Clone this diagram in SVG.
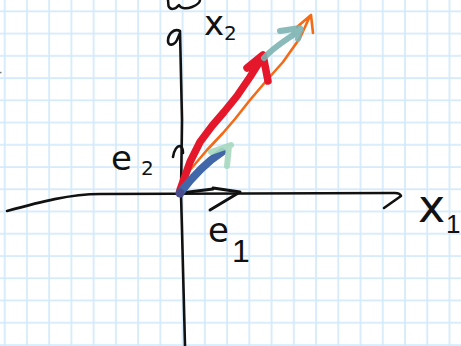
<svg xmlns="http://www.w3.org/2000/svg" width="461" height="346" viewBox="0 0 461 346">
<style>
.ink{fill:none;stroke:#111;stroke-linecap:round;stroke-linejoin:round}
.lbl{font-family:"DejaVu Sans",sans-serif;fill:#111}
.num{font-family:"Liberation Sans",sans-serif;fill:#111}
.vec{fill:none;stroke-linecap:round;stroke-linejoin:round}
</style>
<defs>
<pattern id="gridpat" width="22.24" height="22.24" patternUnits="userSpaceOnUse" x="3.7" y="10.3">
<path d="M1,0 V22.24 M0,1 H22.24" stroke="#d3eafb" stroke-width="1.7" fill="none"/>
</pattern>
</defs>
<rect width="461" height="346" fill="#fff"/>
<rect id="grid" width="461" height="346" fill="url(#gridpat)"/>
<rect x="0" y="71.8" width="1.5" height="1.5" fill="#777"/>
<g id="connectors">
<path id="x-axis" class="ink" stroke-width="2.6" d="M7,211 C40,202 70,194 100,194 L395,193 Q400,193 401,196 L384,208"/>
<path id="y-axis" class="ink" stroke-width="2.6" d="M185,346 L182,230 L181,194 L182,120 L180,31 C174,28 168,34 168,41 C168,46 174,46 177,40 L180,33"/>
<path class="ink" stroke-width="2.5" d="M168,0 L168.5,6 C170,10 175,10 179,5 C181,9 187,9 192,7 C197,5 200,3 200,0"/>
<path id="e2-arrow" class="ink" stroke-width="2.6" d="M173,157 C174,150 177,146 180,146 C182,147 183,150 183,153"/>
<path id="e1-arrow" class="ink" stroke-width="3" d="M181,193 L213,189 M213,188 L240,192 L210,210"/>
<path id="orange-vec" class="vec" stroke="#f36a17" stroke-width="2.6" d="M181,189 L190,170 L207,150 L223,133 L235,119 L250,100 L267,80 L283,62 L300,38 L310,16 M297,27 L311,15 L313,33"/>
<path id="red-vec" class="vec" stroke="#e5182b" stroke-width="7.5" d="M180,190 L190,162 L200,142 L212,126 L224,112 L237,96 L250,77 L262,58 M247,68 L263,55 L268,81"/>
<path id="teal-vec" class="vec" stroke="#7db3b1" stroke-width="6" opacity="0.9" d="M264,58 C271,50 285,40 301,30 M280,31 L300,28 L298,39"/>
<path id="blue-vec" class="vec" stroke="#4267a8" stroke-width="8" d="M180,193 C190,180 205,163 222,152"/>
<circle cx="180" cy="193" r="4.5" fill="#4a4d8e"/>
<path id="mint-head" class="vec" stroke="#a5d8bf" stroke-width="6" opacity="0.9" d="M211,152 L231,145 M229,146 L227,166"/>
</g>
<g id="label-x2"><text class="lbl" x="204" y="35" font-size="34">x</text><text class="lbl" x="224" y="40" font-size="20">2</text></g>
<g id="label-e2"><text class="lbl" x="111" y="170" font-size="34">e</text><text class="lbl" x="141" y="175" font-size="20">2</text></g>
<g id="label-e1"><text class="lbl" x="208" y="242" font-size="34">e</text><text class="num" x="232" y="262" font-size="32">1</text></g>
<g id="label-x1"><text class="lbl" x="418" y="222" font-size="46">x</text><text class="num" x="446" y="233" font-size="26">1</text></g>
</svg>
